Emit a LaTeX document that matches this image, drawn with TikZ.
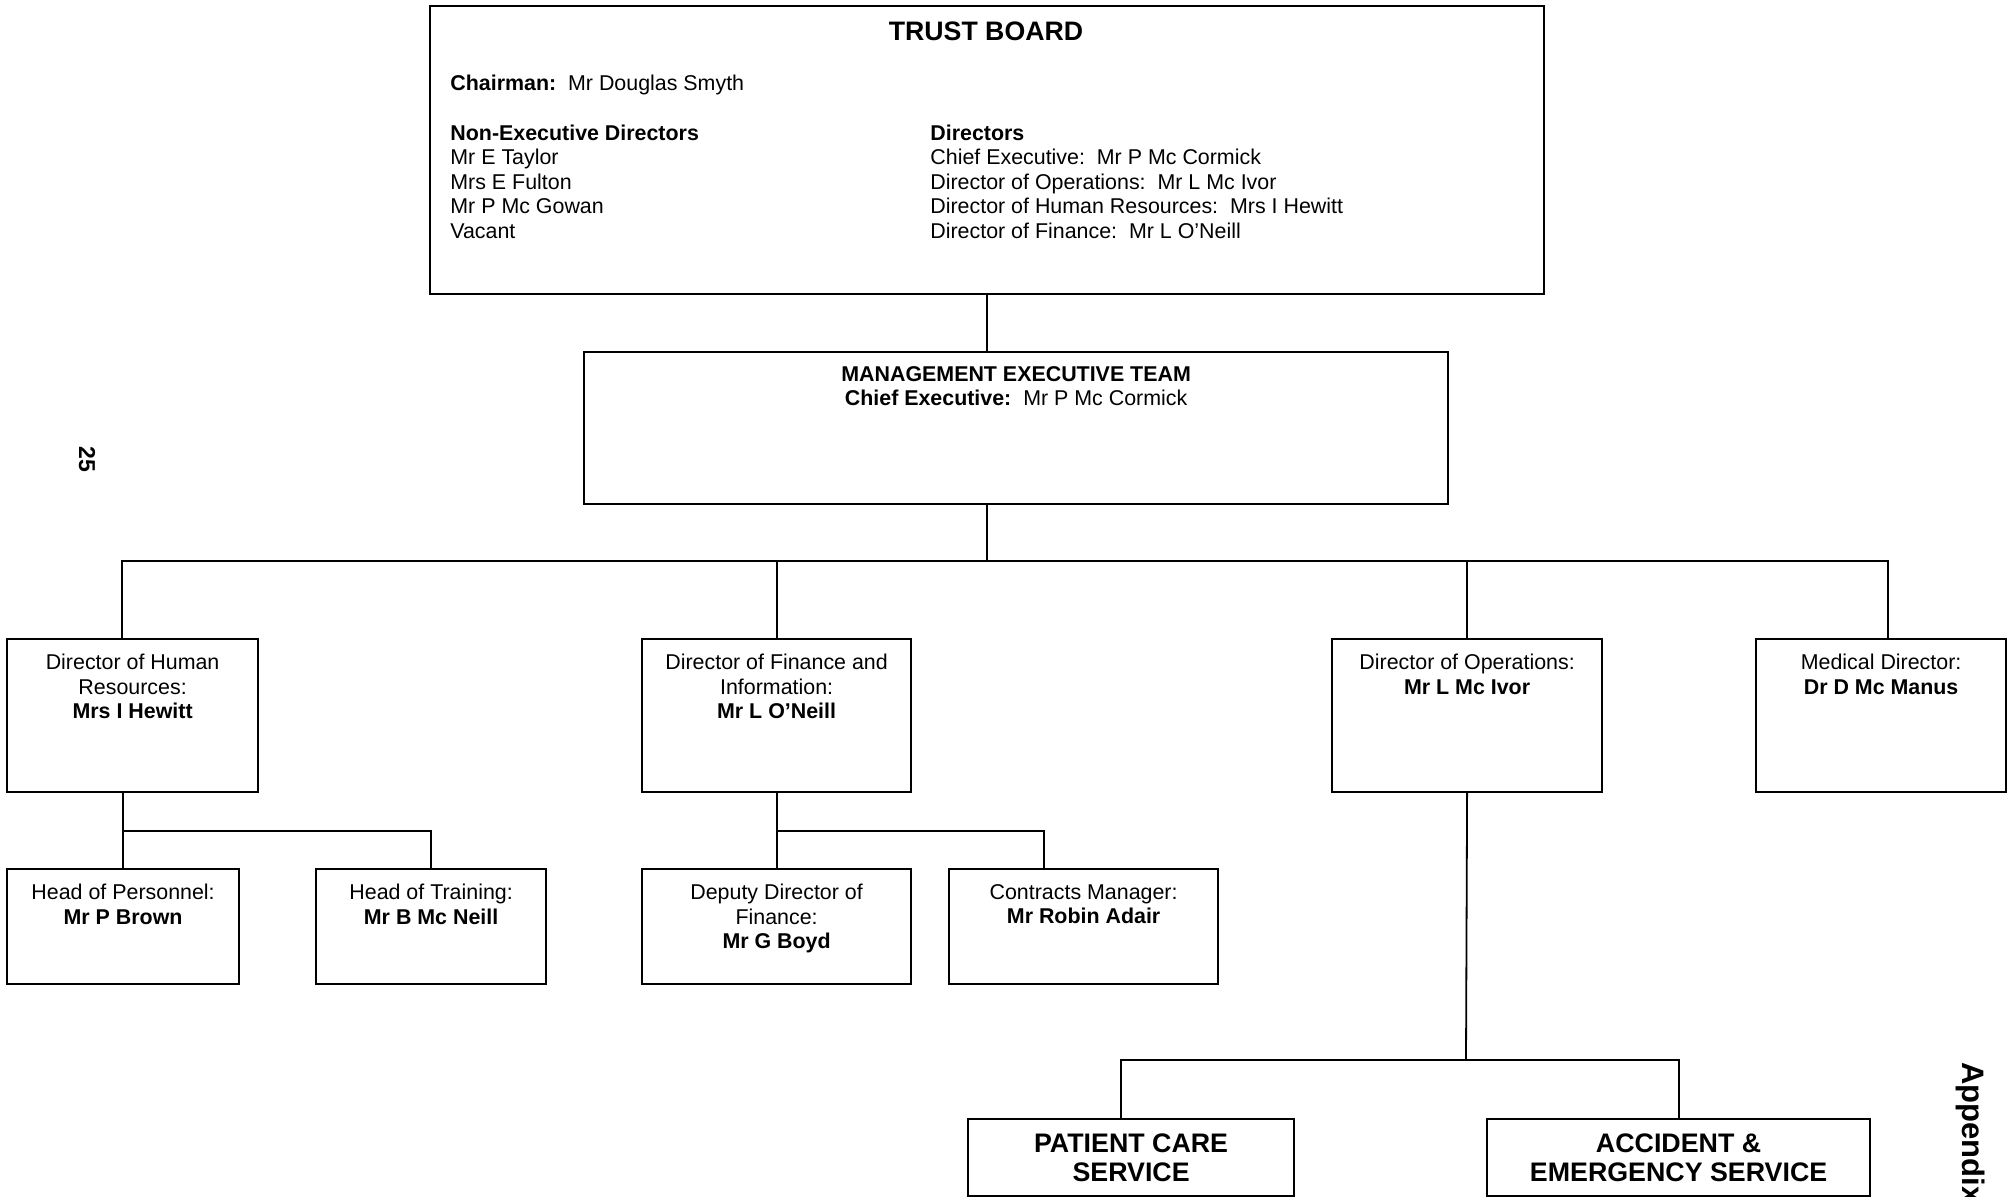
\documentclass[tikz,border=0pt]{standalone}
\usepackage{fontspec}
\setmainfont{Liberation Sans}
\usetikzlibrary{positioning}
\tikzset{
	post/.style 2 args={draw, line width=1.1pt, inner sep=0pt, anchor=north west,
		minimum width=#1*0.5pt, minimum height=#2*0.5pt},
	txt/.style={align=center, inner sep=0pt},
	link/.style={line width=0.9pt},
}
\begin{document}
\begin{tikzpicture}[x=0.5pt, y=-0.5pt, line join=miter,
	font=\fontsize{10.7}{12.2}\selectfont]
	\useasboundingbox (0,0) rectangle (2013,1197);
	\path
	(122,561) coordinate (busL)
	(1888,561) coordinate (busR)
	(1044,868) coordinate (contr-in)
	(1466,1060) coordinate (opsbus)
	(1121,1118) coordinate (pcs-in)
	;
	% boxes
	\node[post={1114}{288}] (trust) at (429,5) {};
	\node[post={864}{152}] (mgmt) at (583,351) {};
	\node[post={251}{153}] (hr) at (6,638) {};
	\node[post={269}{153}] (fin) at (641,638) {};
	\node[post={270}{153}] (ops) at (1331,638) {};
	\node[post={250}{153}] (med) at (1755,638) {};
	\node[post={232}{115}] (pers) at (6,868) {};
	\node[post={230}{115}] (train) at (315,868) {};
	\node[post={269}{115}] (dep) at (641,868) {};
	\node[post={269}{115}] (contr) at (948,868) {};
	\node[post={326}{77}, txt, font=\bfseries\fontsize{13.4}{14.8}\selectfont] (pcs) at (967,1118) {PATIENT CARE\\SERVICE};
	\node[post={383}{77}, txt, font=\bfseries\fontsize{13.4}{14.8}\selectfont] (aes) at (1486,1118) {ACCIDENT \&\\EMERGENCY SERVICE};
	
	% trust board text
	\node[font=\bfseries\fontsize{13.35}{15}\selectfont, inner sep=0pt] (trust-t) at (986,31.5) {TRUST BOARD};
	\node[inner sep=0pt, anchor=base west] (chair) at (450,91) {\textbf{Chairman:}\ \ Mr Douglas Smyth};
	\node[txt, align=left, anchor=north west] (nonexec) at (450,124.5) {\textbf{Non-Executive Directors}\\Mr E Taylor\\Mrs E Fulton\\Mr P Mc Gowan\\Vacant};
	\node[txt, align=left, anchor=north west] (dirs) at (930,124.5) {\textbf{Directors}\\Chief Executive:\ \ Mr P Mc Cormick\\Director of Operations:\ \ Mr L Mc Ivor\\Director of Human Resources:\ \ Mrs I Hewitt\\Director of Finance:\ \ Mr L O’Neill};
	
	% box texts
	\node[txt, below=7.6pt of mgmt.north] (mgmt-t) {\textbf{MANAGEMENT EXECUTIVE TEAM}\\\textbf{Chief Executive:}\ \ Mr P Mc Cormick};
	\node[txt, below=8pt of hr.north] (hr-t) {Director of Human\\Resources:\\\textbf{Mrs I Hewitt}};
	\node[txt, below=8pt of fin.north] (fin-t) {Director of Finance and\\Information:\\\textbf{Mr L O’Neill}};
	\node[txt, below=8pt of ops.north] (ops-t) {Director of Operations:\\\textbf{Mr L Mc Ivor}};
	\node[txt, below=8pt of med.north] (med-t) {Medical Director:\\\textbf{Dr D Mc Manus}};
	\node[txt, below=8pt of pers.north] (pers-t) {Head of Personnel:\\\textbf{Mr P Brown}};
	\node[txt, below=8pt of train.north] (train-t) {Head of Training:\\\textbf{Mr B Mc Neill}};
	\node[txt, below=8pt of dep.north] (dep-t) {Deputy Director of\\Finance:\\\textbf{Mr G Boyd}};
	\node[txt, below=8pt of contr.north] (contr-t) {Contracts Manager:\\\textbf{Mr Robin Adair}};
	
	% page marks
	\node[font=\bfseries\fontsize{11.5}{13}\selectfont, rotate=-90, inner sep=0pt, anchor=base west] (pgno) at (79,446) {25};
	\node[font=\bfseries\fontsize{15.5}{18}\selectfont, rotate=-90, inner sep=0pt, anchor=base west] (appx) at (1962,1062) {Appendix};
	
	% connectors
	\draw[link] (trust.south) -- (trust.south |- mgmt.north);
	\draw[link] (trust.south |- mgmt.south) -- (trust.south |- busL);
	\draw[link] (busL |- hr.north) -- (busL) -- (busR) -- (busR |- med.north);
	\draw[link] (fin.north) -- (fin.north |- busL);
	\draw[link] (ops.north) -- (ops.north |- busL);
	\draw[link] (pers.north |- hr.south) -- (pers.north);
	\draw[link] (pers.north) ++(0,-37) -| (train.north);
	\draw[link] (fin.south) -- (dep.north);
	\draw[link] (dep.north) ++(0,-37) -| (contr-in);
	\draw[link] (ops.south) -- (opsbus);
	\draw[link] (pcs-in) |- (opsbus) -| (aes.north);
\end{tikzpicture}
\end{document}
